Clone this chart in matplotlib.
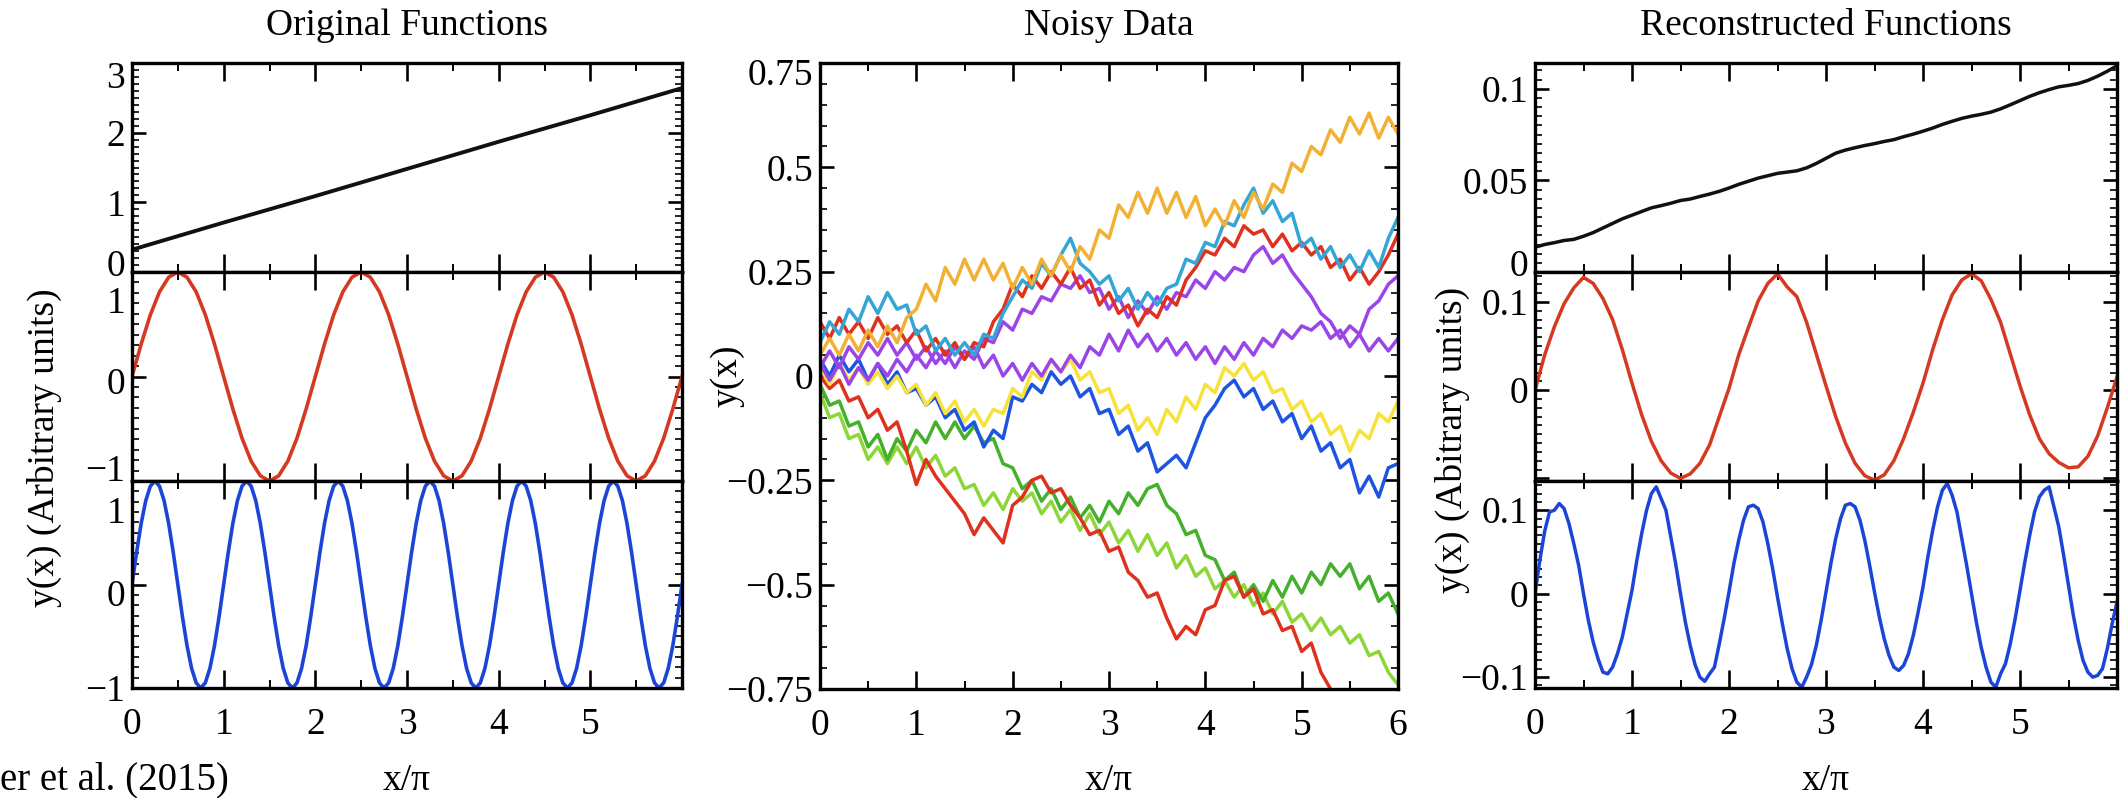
import numpy as np
import matplotlib
matplotlib.use("Agg")
import matplotlib.pyplot as plt
from matplotlib.ticker import MultipleLocator
from matplotlib.transforms import ScaledTranslation

plt.rcParams['font.family'] = ['Liberation Serif', 'DejaVu Serif']

# ---------------- data ----------------
# sample positions (x/pi)
x_lin = [0, 1, 2, 3, 4, 5, 6]
x_10 = np.linspace(0, 6, 61)     # 0.1 steps
x_20 = np.linspace(0, 6, 121)    # 0.05 steps

# Original functions
orig_line = [0.32, 0.71, 1.09, 1.48, 1.87, 2.25, 2.64]
orig_slow = [0.00, 0.31, 0.59, 0.81, 0.95, 1.00, 0.95, 0.81, 0.59, 0.31,
             0.00, -0.31, -0.59, -0.81, -0.95, -1.00, -0.95, -0.81, -0.59, -0.31,
             0.00, 0.31, 0.59, 0.81, 0.95, 1.00, 0.95, 0.81, 0.59, 0.31,
             0.00, -0.31, -0.59, -0.81, -0.95, -1.00, -0.95, -0.81, -0.59, -0.31,
             0.00, 0.31, 0.59, 0.81, 0.95, 1.00, 0.95, 0.81, 0.59, 0.31,
             0.00, -0.31, -0.59, -0.81, -0.95, -1.00, -0.95, -0.81, -0.59, -0.31,
             0.00]
orig_fast = [0.00, 0.31, 0.59, 0.81, 0.95, 1.00, 0.95, 0.81, 0.59, 0.31,
             0.00, -0.31, -0.59, -0.81, -0.95, -1.00, -0.95, -0.81, -0.59, -0.31,
             0.00, 0.31, 0.59, 0.81, 0.95, 1.00, 0.95, 0.81, 0.59, 0.31,
             0.00, -0.31, -0.59, -0.81, -0.95, -1.00, -0.95, -0.81, -0.59, -0.31,
             0.00, 0.31, 0.59, 0.81, 0.95, 1.00, 0.95, 0.81, 0.59, 0.31,
             0.00, -0.31, -0.59, -0.81, -0.95, -1.00, -0.95, -0.81, -0.59, -0.31,
             0.00, 0.31, 0.59, 0.81, 0.95, 1.00, 0.95, 0.81, 0.59, 0.31,
             0.00, -0.31, -0.59, -0.81, -0.95, -1.00, -0.95, -0.81, -0.59, -0.31,
             0.00, 0.31, 0.59, 0.81, 0.95, 1.00, 0.95, 0.81, 0.59, 0.31,
             0.00, -0.31, -0.59, -0.81, -0.95, -1.00, -0.95, -0.81, -0.59, -0.31,
             0.00, 0.31, 0.59, 0.81, 0.95, 1.00, 0.95, 0.81, 0.59, 0.31,
             0.00, -0.31, -0.59, -0.81, -0.95, -1.00, -0.95, -0.81, -0.59, -0.31,
             0.00]

# Noisy data (0.1 steps)
orange_y = [0.05, 0.09, 0.05, 0.10, 0.06, 0.11, 0.07, 0.12, 0.08, 0.14,
            0.16, 0.22, 0.18, 0.26, 0.22, 0.28, 0.23, 0.28, 0.23, 0.27,
            0.21, 0.26, 0.22, 0.28, 0.24, 0.29, 0.25, 0.31, 0.28, 0.35,
            0.33, 0.41, 0.38, 0.44, 0.39, 0.45, 0.39, 0.44, 0.38, 0.43,
            0.36, 0.40, 0.36, 0.42, 0.38, 0.44, 0.40, 0.46, 0.44, 0.51,
            0.49, 0.55, 0.53, 0.59, 0.56, 0.62, 0.58, 0.63, 0.57, 0.62,
            0.58]
cyan_y = [0.08, 0.13, 0.10, 0.16, 0.13, 0.19, 0.15, 0.20, 0.16, 0.17,
          0.10, 0.12, 0.06, 0.09, 0.05, 0.08, 0.05, 0.10, 0.09, 0.15,
          0.19, 0.23, 0.21, 0.27, 0.24, 0.29, 0.33, 0.27, 0.25, 0.22,
          0.24, 0.18, 0.21, 0.16, 0.20, 0.17, 0.21, 0.22, 0.28, 0.27,
          0.32, 0.31, 0.37, 0.36, 0.41, 0.45, 0.39, 0.42, 0.37, 0.39,
          0.31, 0.33, 0.28, 0.31, 0.26, 0.29, 0.25, 0.30, 0.26, 0.33,
          0.38]
red_hi_y = [0.13, 0.09, 0.14, 0.10, 0.13, 0.09, 0.14, 0.10, 0.12, 0.08,
            0.11, 0.06, 0.09, 0.05, 0.08, 0.04, 0.08, 0.07, 0.13, 0.16,
            0.22, 0.19, 0.24, 0.21, 0.25, 0.22, 0.26, 0.21, 0.23, 0.17,
            0.20, 0.15, 0.17, 0.12, 0.16, 0.14, 0.19, 0.17, 0.23, 0.26,
            0.30, 0.29, 0.33, 0.31, 0.36, 0.34, 0.35, 0.31, 0.34, 0.30,
            0.32, 0.29, 0.31, 0.26, 0.28, 0.23, 0.26, 0.22, 0.25, 0.29,
            0.34]
violet_hi_y = [0.02, 0.06, 0.02, 0.07, 0.04, 0.08, 0.05, 0.09, 0.05, 0.08,
               0.04, 0.07, 0.03, 0.06, 0.02, 0.06, 0.04, 0.09, 0.08, 0.13,
               0.11, 0.16, 0.15, 0.19, 0.18, 0.22, 0.21, 0.24, 0.20, 0.21,
               0.16, 0.19, 0.14, 0.18, 0.15, 0.19, 0.16, 0.20, 0.19, 0.23,
               0.21, 0.25, 0.23, 0.26, 0.25, 0.29, 0.31, 0.27, 0.29, 0.25,
               0.22, 0.19, 0.15, 0.13, 0.09, 0.12, 0.10, 0.16, 0.18, 0.22,
               0.24]
violet_lo_y = [0.03, -0.01, 0.03, -0.02, 0.02, -0.01, 0.03, 0.00, 0.04, 0.01,
               0.05, 0.02, 0.06, 0.03, 0.07, 0.04, 0.07, 0.02, 0.05, 0.00,
               0.03, -0.01, 0.03, 0.00, 0.04, 0.01, 0.05, 0.02, 0.07, 0.05,
               0.10, 0.06, 0.11, 0.07, 0.10, 0.06, 0.09, 0.05, 0.08, 0.04,
               0.07, 0.03, 0.07, 0.04, 0.08, 0.05, 0.09, 0.07, 0.11, 0.09,
               0.12, 0.11, 0.13, 0.09, 0.11, 0.07, 0.10, 0.06, 0.09, 0.06,
               0.09]
yellow_y = [0.02, -0.02, 0.03, -0.01, 0.02, -0.02, 0.01, -0.03, 0.00, -0.04,
            -0.02, -0.07, -0.04, -0.09, -0.06, -0.11, -0.08, -0.12, -0.08, -0.09,
            -0.03, -0.05, 0.01, -0.01, 0.04, 0.01, 0.04, -0.01, 0.01, -0.04,
            -0.03, -0.09, -0.07, -0.13, -0.10, -0.14, -0.08, -0.11, -0.05, -0.08,
            -0.02, -0.04, 0.02, 0.00, 0.03, -0.01, 0.01, -0.04, -0.03, -0.08,
            -0.06, -0.11, -0.09, -0.14, -0.12, -0.18, -0.13, -0.15, -0.09, -0.11,
            -0.06]
blue_y = [0.04, 0.00, 0.05, 0.01, 0.04, -0.01, 0.03, -0.02, 0.01, -0.04,
          -0.03, -0.07, -0.05, -0.10, -0.08, -0.13, -0.11, -0.17, -0.13, -0.15,
          -0.05, -0.06, -0.02, -0.04, 0.01, -0.02, 0.00, -0.05, -0.03, -0.09,
          -0.08, -0.14, -0.12, -0.18, -0.16, -0.23, -0.21, -0.19, -0.22, -0.16,
          -0.10, -0.07, -0.03, -0.01, -0.05, -0.03, -0.08, -0.06, -0.11, -0.09,
          -0.15, -0.12, -0.18, -0.16, -0.22, -0.20, -0.28, -0.24, -0.29, -0.22,
          -0.21]
red_lo_y = [0.00, -0.03, -0.01, -0.06, -0.05, -0.10, -0.08, -0.13, -0.11, -0.18,
            -0.26, -0.20, -0.24, -0.27, -0.30, -0.33, -0.38, -0.34, -0.37, -0.40,
            -0.31, -0.29, -0.25, -0.24, -0.28, -0.27, -0.31, -0.34, -0.38, -0.37,
            -0.42, -0.41, -0.47, -0.49, -0.53, -0.52, -0.58, -0.63, -0.60, -0.62,
            -0.56, -0.55, -0.49, -0.48, -0.53, -0.51, -0.57, -0.56, -0.61, -0.60,
            -0.66, -0.64, -0.71, -0.75, -0.80]
green_y = [-0.02, -0.07, -0.06, -0.12, -0.11, -0.17, -0.14, -0.20, -0.15, -0.18,
           -0.13, -0.16, -0.11, -0.15, -0.11, -0.15, -0.12, -0.16, -0.15, -0.21,
           -0.22, -0.27, -0.25, -0.30, -0.27, -0.32, -0.29, -0.34, -0.31, -0.35,
           -0.30, -0.33, -0.28, -0.31, -0.27, -0.26, -0.31, -0.33, -0.38, -0.37,
           -0.43, -0.44, -0.49, -0.47, -0.53, -0.50, -0.54, -0.49, -0.53, -0.48,
           -0.52, -0.47, -0.50, -0.45, -0.48, -0.45, -0.51, -0.48, -0.54, -0.52,
           -0.57]
lime_y = [-0.04, -0.10, -0.09, -0.15, -0.14, -0.20, -0.17, -0.21, -0.17, -0.21,
          -0.17, -0.22, -0.19, -0.24, -0.22, -0.27, -0.26, -0.31, -0.28, -0.32,
          -0.27, -0.30, -0.28, -0.33, -0.30, -0.35, -0.32, -0.37, -0.33, -0.38,
          -0.35, -0.40, -0.37, -0.42, -0.38, -0.43, -0.40, -0.46, -0.43, -0.48,
          -0.46, -0.51, -0.49, -0.53, -0.50, -0.55, -0.52, -0.57, -0.54, -0.59,
          -0.57, -0.61, -0.58, -0.62, -0.60, -0.64, -0.62, -0.67, -0.66, -0.71,
          -0.74]

# Reconstructed functions
rec_line = [0.0135, 0.0150, 0.0160, 0.0172, 0.0178, 0.0195, 0.0215, 0.0240, 0.0265, 0.0290,
            0.0310, 0.0330, 0.0350, 0.0362, 0.0375, 0.0390, 0.0398, 0.0412, 0.0425, 0.0440,
            0.0458, 0.0478, 0.0495, 0.0512, 0.0525, 0.0538, 0.0545, 0.0552, 0.0568, 0.0592,
            0.0620, 0.0648, 0.0665, 0.0678, 0.0690, 0.0700, 0.0712, 0.0722, 0.0738, 0.0752,
            0.0768, 0.0785, 0.0805, 0.0822, 0.0838, 0.0850, 0.0860, 0.0872, 0.0890, 0.0912,
            0.0935, 0.0958, 0.0978, 0.0995, 0.1010, 0.1018, 0.1028, 0.1045, 0.1068, 0.1095,
            0.1125]
rec_slow = [0.000, 0.040, 0.072, 0.098, 0.116, 0.128, 0.121, 0.104, 0.080, 0.046,
            0.008, -0.028, -0.058, -0.080, -0.094, -0.100, -0.095, -0.083, -0.062, -0.030,
            0.002, 0.040, 0.071, 0.101, 0.121, 0.132, 0.117, 0.106, 0.077, 0.041,
            0.005, -0.030, -0.060, -0.083, -0.097, -0.102, -0.096, -0.080, -0.055, -0.025,
            0.008, 0.046, 0.080, 0.108, 0.125, 0.132, 0.124, 0.103, 0.077, 0.041,
            0.005, -0.028, -0.055, -0.072, -0.082, -0.088, -0.087, -0.075, -0.052, -0.020,
            0.015]
rec_fast = [0.000, 0.040, 0.075, 0.098, 0.100, 0.108, 0.102, 0.084, 0.060, 0.034,
            0.000, -0.032, -0.058, -0.078, -0.094, -0.096, -0.088, -0.072, -0.052, -0.024,
            0.004, 0.040, 0.072, 0.100, 0.120, 0.128, 0.114, 0.100, 0.068, 0.036,
            0.000, -0.034, -0.062, -0.085, -0.100, -0.105, -0.096, -0.088, -0.060, -0.030,
            0.002, 0.036, 0.064, 0.088, 0.104, 0.106, 0.102, 0.086, 0.060, 0.030,
            -0.004, -0.036, -0.066, -0.090, -0.106, -0.112, -0.100, -0.085, -0.062, -0.032,
            0.002, 0.036, 0.066, 0.090, 0.106, 0.108, 0.104, 0.088, 0.064, 0.034,
            0.002, -0.028, -0.054, -0.074, -0.088, -0.092, -0.086, -0.072, -0.050, -0.022,
            0.008, 0.044, 0.076, 0.104, 0.124, 0.132, 0.118, 0.098, 0.066, 0.034,
            0.000, -0.034, -0.064, -0.088, -0.106, -0.112, -0.096, -0.084, -0.060, -0.030,
            0.004, 0.038, 0.070, 0.098, 0.116, 0.124, 0.128, 0.104, 0.080, 0.046,
            0.010, -0.026, -0.056, -0.080, -0.094, -0.100, -0.098, -0.090, -0.066, -0.036,
            -0.010]

# drawing order and colours of the noisy curves
noisy = [(lime_y, '#8cd63a'), (green_y, '#45b02c'), (red_lo_y, '#e0301e'),
         (blue_y, '#1d55e0'), (yellow_y, '#f7e23a'), (violet_lo_y, '#9b45e8'),
         (violet_hi_y, '#9b45e8'), (red_hi_y, '#e0301e'), (cyan_y, '#33a6d6'),
         (orange_y, '#f2b134')]

BLACK = '#111111'
RED = '#d43a22'
BLUE = '#1c45d8'
FS = 27
MINUS = '\u2212'

W, H = 2121, 798
fig = plt.figure(figsize=(W / 100, H / 100), dpi=100)


def fy(px):
    return 1 - px / H


def frame(ax, ylim, yticks, ylabels, yminor, xlabels=None):
    ax.set_xlim(0, 6)
    ax.set_ylim(*ylim)
    ax.set_xticks(range(7))
    if xlabels is None:
        ax.tick_params(axis='x', labelbottom=False)
    else:
        ax.set_xticklabels(xlabels)
    ax.xaxis.set_minor_locator(MultipleLocator(0.5))
    ax.set_yticks(yticks)
    ax.set_yticklabels(ylabels)
    ax.yaxis.set_minor_locator(MultipleLocator(yminor))
    ax.tick_params(which='both', direction='in', top=True, right=True, labelsize=FS)
    ax.tick_params(axis='x', which='major', length=13, width=1.9, pad=14)
    ax.tick_params(axis='x', which='minor', length=6, width=1.4)
    ax.tick_params(axis='y', which='major', length=10, width=1.9, pad=5)
    ax.tick_params(axis='y', which='minor', length=5, width=1.2)
    for sp in ax.spines.values():
        sp.set_linewidth(2.4)


def stacked(left, width):
    edges = [63, 272, 481, 688]
    axs = []
    for i in range(3):
        axs.append(fig.add_axes([left / W, fy(edges[i + 1]), width / W,
                                 (edges[i + 1] - edges[i]) / H]))
    return axs


x_labels_5 = ['0', '1', '2', '3', '4', '5', '']
x_labels_6 = ['0', '1', '2', '3', '4', '5', '6']

# ---------------- left: original functions ----------------
la = stacked(132, 550)
la[0].plot(x_lin, orig_line, color=BLACK, lw=2.8)
la[1].plot(x_10, orig_slow, color=RED, lw=2.6)
la[2].plot(x_20, orig_fast, color=BLUE, lw=2.6)
frame(la[0], (0, 3), [0, 1, 2, 3], ['0', '1', '2', '3'], 0.1)
frame(la[1], (-1, 1), [-1, 0, 1], [MINUS + '1', '0', '1'], 0.1)
frame(la[2], (-1, 1), [-1, 0, 1], [MINUS + '1', '0', '1'], 0.1, x_labels_5)

# ---------------- middle: noisy data ----------------
ma = fig.add_axes([820 / W, fy(689), 578 / W, (689 - 63) / H])
for ys, col in noisy:
    ma.plot(x_10[:len(ys)], ys, color=col, lw=2.5)
frame(ma, (-0.75, 0.75), [-0.75, -0.5, -0.25, 0, 0.25, 0.5, 0.75],
      [MINUS + '0.75', MINUS + '0.5', MINUS + '0.25', '0', '0.25', '0.5', '0.75'],
      0.05, x_labels_6)

# ---------------- right: reconstructed functions ----------------
ra = stacked(1535, 582)
ra[0].plot(x_10, rec_line, color=BLACK, lw=2.5)
ra[1].plot(x_10, rec_slow, color=RED, lw=2.5)
ra[2].plot(x_20, rec_fast, color=BLUE, lw=2.5)
frame(ra[0], (0, 0.114), [0, 0.05, 0.1], ['0', '0.05', '0.1'], 0.005)
frame(ra[1], (-0.103, 0.134), [-0.1, 0, 0.1], ['', '0', '0.1'], 0.01)
frame(ra[2], (-0.113, 0.135), [-0.1, 0, 0.1], [MINUS + '0.1', '0', '0.1'], 0.01,
      x_labels_5)

# ---------------- texts ----------------
for ax_l, ax_r, title in [(132, 682, 'Original Functions'),
                          (820, 1398, 'Noisy Data'),
                          (1535, 2117, 'Reconstructed Functions')]:
    cx = (ax_l + ax_r) / 2 / W
    fig.text(cx, fy(26), title, ha='center', va='center', fontsize=FS)
    fig.text(cx, fy(781), 'x/\u03c0', ha='center', va='center', fontsize=FS)

fig.text(44 / W, fy(448), 'y(x) (Arbitrary units)', rotation=90,
         ha='center', va='center', fontsize=FS)
fig.text(727 / W, fy(376), 'y(x)', rotation=90, ha='center', va='center', fontsize=FS)
fig.text(1452 / W, fy(440), 'y(x) (Abitrary units)', rotation=90,
         ha='center', va='center', fontsize=FS)
fig.text(0, fy(780), 'er et al. (2015)', ha='left', va='center', fontsize=28)

# push the crowded y tick labels apart like the original
fig.canvas.draw()


def nudge(ax, shifts):
    for tick in ax.yaxis.get_major_ticks():
        for val, px in shifts.items():
            if abs(tick.get_loc() - val) < 1e-9:
                off = ScaledTranslation(0, -px / 100, fig.dpi_scale_trans)
                tick.label1.set_transform(tick.label1.get_transform() + off)


nudge(la[0], {3: 12, 0: -9})
nudge(la[1], {1: 28, 0: 4, -1: -13})
nudge(la[2], {1: 29, 0: 8})
nudge(ma, {0.75: 9})
nudge(ra[0], {0: -9})

fig.savefig('out.png', dpi=100)
